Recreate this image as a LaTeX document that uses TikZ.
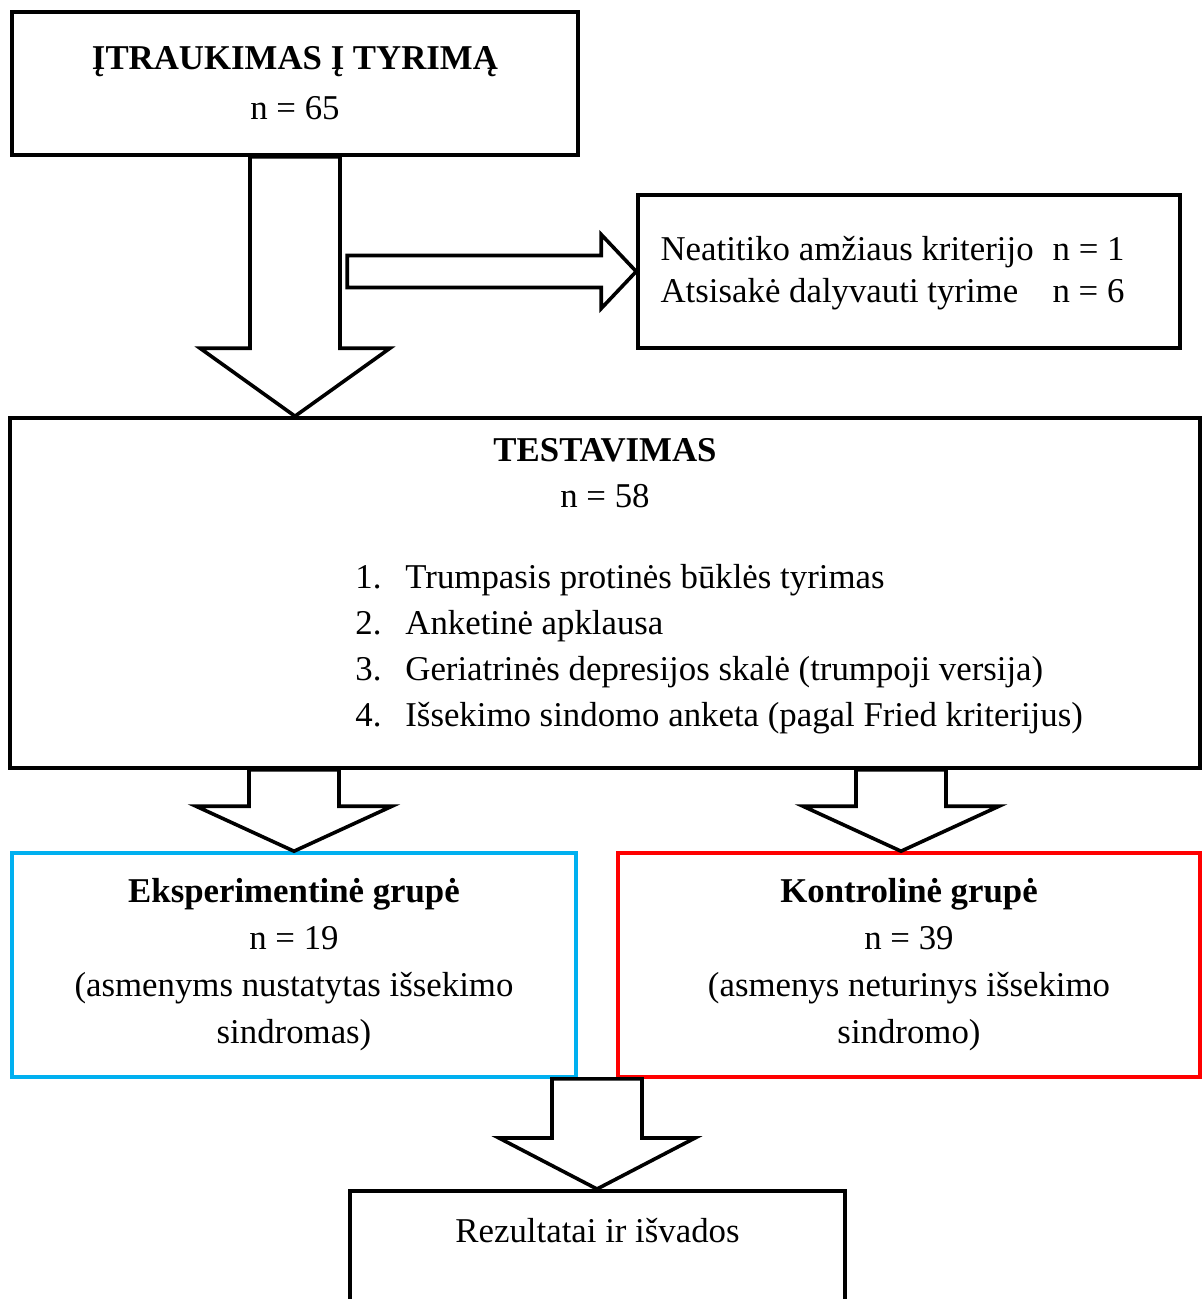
\documentclass[tikz,border=0pt]{standalone}
\usepackage{fontspec}
\setmainfont{Liberation Serif}
\usetikzlibrary{calc,positioning}
\definecolor{grpblue}{RGB}{0,176,240}
\definecolor{grpred}{RGB}{255,0,0}

% block arrows: from, tip, shaft half width, head half width, head length
\newcommand{\fatdown}[5]{%
  \draw[fatarrow] ($(#1)+(-#3,0)$) -- ($(#2)+(-#3,-#5)$) -- ($(#2)+(-#4,-#5)$) -- (#2)
    -- ($(#2)+(#4,-#5)$) -- ($(#2)+(#3,-#5)$) -- ($(#1)+(#3,0)$) -- cycle;}
\newcommand{\fatright}[5]{%
  \draw[fatarrow] ($(#1)+(0,-#3)$) -- ($(#2)+(-#5,-#3)$) -- ($(#2)+(-#5,-#4)$) -- (#2)
    -- ($(#2)+(-#5,#4)$) -- ($(#2)+(-#5,#3)$) -- ($(#1)+(0,#3)$) -- cycle;}

\begin{document}
\begin{tikzpicture}[x=0.5pt, y=-0.5pt,
    every node/.style={font=\fontsize{17.4}{23}\selectfont},
    box/.style={draw, line width=1.8pt, inner sep=0pt, align=center},
    fatarrow/.style={draw, fill=white, line width=1.8pt, line join=miter}]

    \useasboundingbox (0,0) rectangle (1202,1299);

    % boxes
    \node[box, minimum width=283pt, minimum height=71.5pt, font=\fontsize{17.4}{25}\selectfont] (incl) at (295,83.5)
        {\textbf{ĮTRAUKIMAS Į TYRIMĄ}\\ n = 65};
    \node[box, minimum width=271pt, minimum height=76.5pt] (excl) at (909,271.5) {};
    \node[anchor=west, align=left, inner sep=0pt, font=\fontsize{17.4}{21}\selectfont] (excltext) at ($(excl.west)+(24,1.5)$)
        {\makebox[196pt][l]{Neatitiko amžiaus kriterijo}n = 1\\
         \makebox[196pt][l]{Atsisakė dalyvauti tyrime}n = 6};

    \node[box, minimum width=595pt, minimum height=175pt] (test) at (605,593) {};
    \node[align=center] (testtitle) at ($(test.north)+(0,57)$) {\textbf{TESTAVIMAS}\\ n = 58};
    \node[anchor=north west, align=left, inner sep=0pt] (testlist) at (355,564)
        {\makebox[25pt][l]{1.}Trumpasis protinės būklės tyrimas\\
         \makebox[25pt][l]{2.}Anketinė apklausa\\
         \makebox[25pt][l]{3.}Geriatrinės depresijos skalė (trumpoji versija)\\
         \makebox[25pt][l]{4.}Išsekimo sindomo anketa (pagal Fried kriterijus)};

    \node[box, draw=grpblue, minimum width=282pt, minimum height=112pt, font=\fontsize{17.4}{23.5}\selectfont] (eksp) at (294,965)
        {\textbf{Eksperimentinė grupė}\\ n = 19\\ (asmenyms nustatytas išsekimo\\ sindromas)};
    \node[box, draw=grpred, minimum width=291pt, minimum height=112pt, font=\fontsize{17.4}{23.5}\selectfont] (kont) at (909,965)
        {\textbf{Kontrolinė grupė}\\ n = 39\\ (asmenys neturinys išsekimo\\ sindromo)};

    \node[box, minimum width=247.5pt, minimum height=60pt, anchor=north] (res) at (597.5,1189) {};
    \node (restext) at ($(res.north)+(0,42)$) {Rezultatai ir išvados};

    % arrows
    \coordinate (a1tip) at (incl.south |- test.north);
    \path (excl.west) ++(-289,0) coordinate (a2start);
    \coordinate (a3start) at (eksp.north |- test.south);
    \coordinate (a4tip) at ($(kont.north)+(-8,0)$);
    \coordinate (a4start) at (a4tip |- test.south);
    \coordinate (a5start) at ($(eksp.south east)!0.5!(kont.south west)$);
    \coordinate (a5tip) at (a5start |- res.north);

    \fatdown{incl.south}{a1tip}{45}{95}{68}
    \fatright{a2start}{excl.west}{16}{37}{35}
    \fatdown{a3start}{eksp.north}{45}{98}{45}
    \fatdown{a4start}{a4tip}{45}{98}{45}
    \fatdown{a5start}{a5tip}{45}{98}{51}
\end{tikzpicture}
\end{document}
